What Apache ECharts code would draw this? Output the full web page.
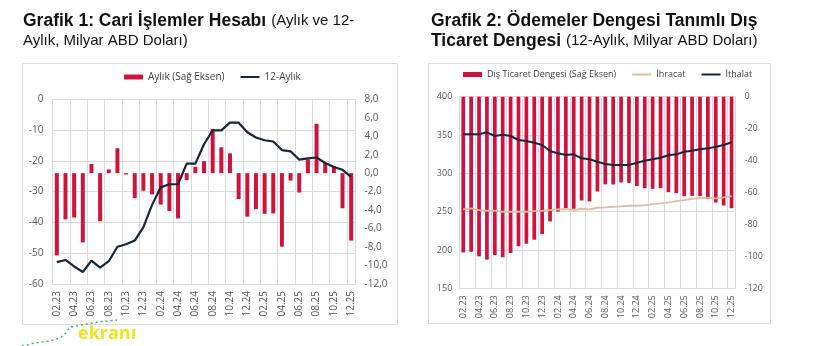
<!DOCTYPE html>
<html><head><meta charset="utf-8">
<script src="https://cdn.jsdelivr.net/npm/echarts@6/dist/echarts.min.js"></script>
<style>html,body{margin:0;padding:0;background:#fff}#c{width:829px;height:346px}</style>
</head><body><div id="c"></div>
<script>
const categories = ['02.23','03.23','04.23','05.23','06.23','07.23','08.23','09.23','10.23','11.23','12.23',
  '01.24','02.24','03.24','04.24','05.24','06.24','07.24','08.24','09.24','10.24','11.24','12.24',
  '01.25','02.25','03.25','04.25','05.25','06.25','07.25','08.25','09.25','10.25','11.25','12.25'];

// Grafik 1
const monthlyCA = [-8.9,-5.0,-4.8,-7.5,1.0,-5.2,0.4,2.7,-0.15,-2.7,-1.9,-2.3,-3.4,-4.1,-4.9,-0.75,0.7,1.3,4.8,2.8,2.15,-2.8,-4.7,-3.9,-4.4,-4.35,-7.95,-0.8,-2.1,1.5,5.35,1.1,0.75,-3.8,-7.3];
const rollingCA = [-52.9,-52.2,-54.3,-56.1,-52.4,-54.7,-52.6,-47.9,-47.1,-45.9,-41.5,-34.3,-28.6,-27.6,-27.6,-20.9,-20.9,-14.6,-10.1,-10.1,-7.6,-7.6,-10.7,-12.4,-13.3,-13.7,-16.5,-16.9,-19.6,-19.2,-18.9,-20.7,-22.0,-22.9,-25.2];

// Grafik 2
const tradeBalance = [-97.5,-97.1,-100,-102,-99.1,-100.6,-97.9,-93.7,-92.1,-89.6,-86,-78.1,-71.9,-69.8,-70.2,-65,-65.6,-59.4,-54.9,-55,-53.7,-54,-56,-57.3,-57.7,-57.3,-59.8,-60.4,-62.3,-62.1,-62.3,-64.1,-66.3,-68.1,-69.8];
const exportsArr = [253,254.3,252.1,251.2,251.2,249.9,249.9,249.9,249.9,250.8,251.2,252.1,253,253.3,252.1,253.8,253,255.1,255.5,256.4,256.8,257.7,257.7,258.6,259.9,260.8,262.1,263.8,265.1,266.8,268.1,268.1,267.3,268.6,270.3];
const importsArr = [350.9,350.9,350.9,353.5,348.7,350.4,348.7,343.5,342.2,340,337,329.2,326.1,323.9,324.8,319.6,318.3,315.2,312.2,310.8,310.8,310.8,313.8,316.4,318.3,320.4,323.5,324.8,328.2,329.5,331.3,332.6,334.7,337,340.5];

const RED = '#d1123f', NAVY = '#17263a', BEIGE = '#dcbf9f', GRID = '#dadada', LBL = '#595959';
const FONT = "'Open Sans', sans-serif";
const HIDE = {color: 'rgba(0,0,0,0)', borderColor: 'rgba(0,0,0,0)', borderWidth: 0};

function xAxis(gridIndex, fs) {
  return {
    type: 'category', gridIndex, data: categories, boundaryGap: true,
    axisLine: {show: false}, axisTick: {show: false},
    axisLabel: {interval: 1, rotate: 90, fontSize: fs, color: LBL, fontFamily: FONT, margin: 7},
    splitLine: {show: true, interval: 1, lineStyle: {color: GRID, width: 1}}
  };
}
function yAxis(gridIndex, pos, min, max, interval, fs, split, fmt, margin) {
  return {
    type: 'value', gridIndex, position: pos, min, max, interval,
    axisLine: {show: false}, axisTick: {show: false},
    axisLabel: {fontSize: fs, color: LBL, fontFamily: FONT, margin, formatter: fmt},
    splitLine: {show: split, lineStyle: {color: GRID, width: 1}}
  };
}
const comma = v => v.toFixed(1).replace('.', ',');
const richT = {
  b: {fontFamily: "'Liberation Sans', Arial", fontWeight: 'bold', fontSize: 17.5, color: '#111', lineHeight: 20},
  n: {fontFamily: "'Liberation Sans', Arial", fontWeight: 'normal', fontSize: 15, color: '#111', lineHeight: 20}
};

const chart = echarts.init(document.getElementById('c'), null, {renderer: 'canvas'});
chart.setOption({
  animation: false,
  backgroundColor: '#fff',
  title: [
    {left: 23, top: 11, padding: 0, text: '{b|Grafik 1: Cari İşlemler Hesabı} {n|(Aylık ve 12-}\n{n|Aylık, Milyar ABD Doları)}',
     textStyle: {fontWeight: 'normal', rich: richT}},
    {left: 431, top: 11, padding: 0, text: '{b|Grafik 2: Ödemeler Dengesi Tanımlı Dış}\n{b|Ticaret Dengesi} {n|(12-Aylık, Milyar ABD Doları)}',
     textStyle: {fontWeight: 'normal', rich: richT}}
  ],
  legend: [
    {left: 124, top: 72, padding: 0, itemWidth: 19, itemHeight: 5, itemGap: 15,
     textStyle: {fontSize: 10, color: '#404040', fontFamily: FONT},
     data: [{name: 'Aylık (Sağ Eksen)', icon: 'rect'}, {name: '12-Aylık', itemStyle: HIDE}]},
    {left: 463, top: 70, padding: 0, itemWidth: 19, itemHeight: 5, itemGap: 15,
     textStyle: {fontSize: 9, color: '#404040', fontFamily: FONT},
     data: [{name: 'Dış Ticaret Dengesi (Sağ Eksen)', icon: 'rect'}, {name: 'İhracat', itemStyle: HIDE}, {name: 'İthalat', itemStyle: HIDE}]}
  ],
  grid: [
    {left: 52.5, top: 99.3, width: 303, height: 184.7},
    {left: 459.3, top: 96.7, width: 276.2, height: 191.6}
  ],
  xAxis: [xAxis(0, 10), xAxis(1, 9)],
  yAxis: [
    yAxis(0, 'left', -60, 0, 10, 10, true, null, 9),
    yAxis(0, 'right', -12, 8, 2, 10, false, comma, 9),
    yAxis(1, 'left', 150, 400, 50, 9, true, null, 7),
    yAxis(1, 'right', -120, 0, 20, 9, false, null, 9)
  ],
  series: [
    {name: 'Aylık (Sağ Eksen)', type: 'bar', xAxisIndex: 0, yAxisIndex: 1, data: monthlyCA,
     barWidth: '46%', itemStyle: {color: RED}},
    {name: '12-Aylık', type: 'line', xAxisIndex: 0, yAxisIndex: 0, data: rollingCA,
     symbol: 'none', lineStyle: {color: NAVY, width: 2.2}, itemStyle: {color: NAVY}, z: 5},
    {name: 'Dış Ticaret Dengesi (Sağ Eksen)', type: 'bar', xAxisIndex: 1, yAxisIndex: 3, data: tradeBalance,
     barWidth: '47%', itemStyle: {color: RED}},
    {name: 'İhracat', type: 'line', xAxisIndex: 1, yAxisIndex: 2, data: exportsArr,
     symbol: 'none', lineStyle: {color: BEIGE, width: 1.8}, itemStyle: {color: BEIGE}, z: 5},
    {name: 'İthalat', type: 'line', xAxisIndex: 1, yAxisIndex: 2, data: importsArr,
     symbol: 'none', lineStyle: {color: NAVY, width: 2}, itemStyle: {color: NAVY}, z: 5}
  ],
  graphic: [
    {type: 'rect', shape: {x: 22.5, y: 63.5, width: 375, height: 261}, style: {fill: 'none', stroke: '#dcdcdc', lineWidth: 1}, z: -1},
    {type: 'rect', shape: {x: 428.5, y: 63.5, width: 342, height: 260}, style: {fill: 'none', stroke: '#dcdcdc', lineWidth: 1}, z: -1},
    {type: 'polyline', shape: {points: [[22,346],[35,343],[50,341],[60,338],[66,333],[70,327],[82,325],[98,322],[117,320]]},
     style: {stroke: '#3cb371', lineWidth: 1.5, lineDash: [2, 3], fill: null}},
    {type: 'text', left: 78, top: 325, style: {text: 'ekranı', fill: '#f2e41a', font: "bold 18px 'Open Sans', sans-serif"}}
  ]
});
</script></body></html>
